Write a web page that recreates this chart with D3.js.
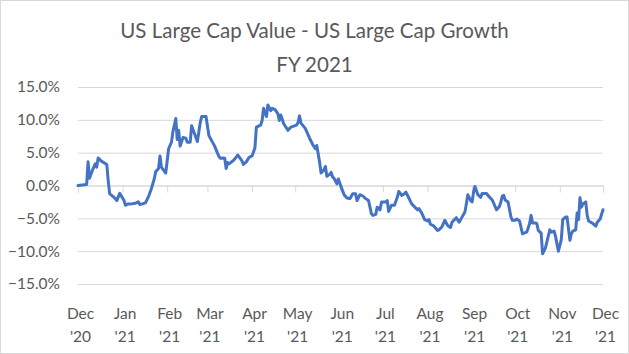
<!DOCTYPE html>
<html>
<head>
<meta charset="utf-8">
<script src="https://cdn.jsdelivr.net/npm/d3@7"></script>
<style>
  body { margin: 0; background: #fff; }
  text { font-family: Lato, "Open Sans", sans-serif; fill: #595959; }
</style>
</head>
<body>
<div id="chart"></div>
<script>
// Chart text
const titleLines = ["US Large Cap Value - US Large Cap Growth", "FY 2021"];

// Series: spread (value minus growth), in percent
const dates = [
  "2020-12-01","2020-12-07","2020-12-08","2020-12-09","2020-12-11","2020-12-13","2020-12-14","2020-12-15",
  "2020-12-17","2020-12-21","2020-12-22","2020-12-23","2020-12-26","2020-12-28","2020-12-30","2021-01-02",
  "2021-01-03","2021-01-05","2021-01-07","2021-01-10","2021-01-12","2021-01-13","2021-01-15","2021-01-17",
  "2021-01-19","2021-01-21","2021-01-23","2021-01-24","2021-01-26","2021-01-27","2021-01-28","2021-01-31",
  "2021-02-02","2021-02-04","2021-02-05","2021-02-07","2021-02-08","2021-02-09","2021-02-10","2021-02-12",
  "2021-02-14","2021-02-15","2021-02-17","2021-02-18","2021-02-19","2021-02-22","2021-02-24","2021-02-25",
  "2021-02-28","2021-03-02","2021-03-04","2021-03-06","2021-03-09","2021-03-10","2021-03-12","2021-03-13",
  "2021-03-14","2021-03-15","2021-03-16","2021-03-19","2021-03-21","2021-03-22","2021-03-25","2021-03-26",
  "2021-03-28","2021-03-30","2021-04-01","2021-04-03","2021-04-04","2021-04-07","2021-04-08","2021-04-09",
  "2021-04-11","2021-04-12","2021-04-14","2021-04-15","2021-04-17","2021-04-19","2021-04-20","2021-04-21",
  "2021-04-23","2021-04-26","2021-04-28","2021-05-02","2021-05-03","2021-05-04","2021-05-05","2021-05-08",
  "2021-05-11","2021-05-13","2021-05-15","2021-05-16","2021-05-18","2021-05-19","2021-05-21","2021-05-22",
  "2021-05-23","2021-05-25","2021-05-26","2021-05-27","2021-05-28","2021-05-30","2021-05-31","2021-06-02",
  "2021-06-04","2021-06-06","2021-06-08","2021-06-10","2021-06-12","2021-06-13","2021-06-15","2021-06-17",
  "2021-06-19","2021-06-21","2021-06-23","2021-06-24","2021-06-26","2021-06-27","2021-06-29","2021-06-30",
  "2021-07-03","2021-07-04","2021-07-05","2021-07-07","2021-07-09","2021-07-11","2021-07-12","2021-07-13",
  "2021-07-14","2021-07-16","2021-07-17","2021-07-19","2021-07-21","2021-07-23","2021-07-25","2021-07-26",
  "2021-07-28","2021-07-30","2021-08-01","2021-08-02","2021-08-03","2021-08-05","2021-08-08","2021-08-09",
  "2021-08-11","2021-08-13","2021-08-15","2021-08-17","2021-08-18","2021-08-21","2021-08-23","2021-08-24",
  "2021-08-27","2021-08-28","2021-08-29","2021-08-31","2021-09-01","2021-09-02","2021-09-03","2021-09-05",
  "2021-09-07","2021-09-08","2021-09-11","2021-09-12","2021-09-15","2021-09-16","2021-09-18","2021-09-20",
  "2021-09-21","2021-09-22","2021-09-23","2021-09-24","2021-09-26","2021-09-28","2021-09-29","2021-10-01",
  "2021-10-02","2021-10-04","2021-10-06","2021-10-07","2021-10-09","2021-10-11","2021-10-12","2021-10-13",
  "2021-10-15","2021-10-16","2021-10-17","2021-10-19","2021-10-20","2021-10-22","2021-10-23","2021-10-25",
  "2021-10-26","2021-10-28","2021-10-29","2021-10-31","2021-11-02","2021-11-03","2021-11-05","2021-11-06",
  "2021-11-08","2021-11-09","2021-11-10","2021-11-12","2021-11-13","2021-11-14","2021-11-15","2021-11-16",
  "2021-11-17","2021-11-19","2021-11-20","2021-11-21","2021-11-24","2021-11-26","2021-11-27","2021-11-29",
  "2021-12-01"
];
const spread = [
  0.0, 0.15, 3.6, 1.1, 2.3, 3.3, 2.8, 4.2,
  3.75, 3.2, 0.75, -1.25, -1.8, -2.3, -1.2, -2.3,
  -3.0, -2.8, -2.8, -2.7, -2.5, -2.9, -2.8, -2.6,
  -1.7, -0.5, 1.0, 2.1, 2.6, 4.5, 2.8, 1.9,
  5.6, 6.6, 8.2, 10.2, 7.0, 8.4, 6.0, 7.3,
  7.2, 6.6, 6.6, 9.1, 8.5, 6.7, 9.6, 10.5,
  10.5, 7.6, 6.8, 6.0, 4.4, 4.15, 4.2, 4.15,
  2.6, 3.5, 3.3, 3.8, 4.3, 4.65, 3.75, 3.2,
  3.6, 4.3, 4.5, 5.7, 8.9, 9.2, 9.9, 11.75,
  10.5, 12.25, 11.4, 11.75, 11.55, 10.9, 9.9, 10.75,
  9.4, 8.4, 8.9, 9.2, 9.6, 10.6, 9.5, 8.7,
  7.2, 6.3, 5.6, 6.1, 3.5, 1.9, 2.4, 2.9,
  1.4, 1.7, 2.0, 1.3, 1.1, 0.25, 1.0, -0.25,
  -1.4, -1.9, -2.0, -1.25, -1.25, -2.3, -1.4, -1.6,
  -2.0, -2.3, -4.3, -4.55, -4.4, -3.3, -3.7, -2.5,
  -2.5, -2.3, -3.95, -3.0, -3.0, -1.8, -0.9, -1.2,
  -1.5, -1.25, -1.0, -1.9, -2.8, -3.25, -3.7, -3.5,
  -4.2, -5.2, -5.4, -5.2, -5.9, -6.1, -6.85, -6.75,
  -6.3, -5.3, -6.1, -6.4, -5.6, -4.9, -5.6, -5.2,
  -4.05, -2.8, -1.4, -2.3, -2.5, -1.0, -0.15, -1.4,
  -1.8, -1.2, -1.2, -1.5, -2.2, -2.7, -3.7, -3.2,
  -2.5, -1.6, -1.5, -2.2, -2.5, -4.8, -5.3, -5.3,
  -5.1, -5.4, -7.35, -7.25, -7.1, -5.8, -4.55, -5.7,
  -5.7, -5.8, -6.85, -7.25, -10.4, -9.5, -8.6, -6.75,
  -7.1, -6.95, -7.75, -10.0, -8.25, -5.2, -4.8, -4.8,
  -8.35, -7.35, -6.95, -6.75, -4.2, -5.2, -1.85, -3.3,
  -2.8, -2.5, -4.55, -5.4, -5.8, -6.2, -5.6, -5.1,
  -3.7
];

// Axis settings
const xStart = "2020-12-01";
const xEnd = "2021-12-01";
const yTicks = [-0.15, -0.10, -0.05, 0, 0.05, 0.10, 0.15];

const width = 629, height = 354;
const margin = {top: 87, right: 26, bottom: 70, left: 78};

const parse = d3.timeParse("%Y-%m-%d");
const data = dates.map((d, i) => ({date: parse(d), value: spread[i] / 100}));

const svg = d3.select("#chart").append("svg")
  .attr("width", width)
  .attr("height", height);

// chart area border
svg.append("rect")
  .attr("x", 0.5).attr("y", 0.5)
  .attr("width", width - 1).attr("height", height - 1)
  .attr("fill", "#fff")
  .attr("stroke", "#d9d9d9");

const x = d3.scaleTime()
  .domain([parse(xStart), parse(xEnd)])
  .range([margin.left, width - margin.right]);

const y = d3.scaleLinear()
  .domain([-0.15, 0.15])
  .range([height - margin.bottom, margin.top]);

// Title
svg.append("text")
  .attr("text-anchor", "middle")
  .style("font-size", "20.5px")
  .selectAll("tspan")
  .data(titleLines)
  .enter()
  .append("tspan")
  .attr("x", width / 2)
  .attr("y", (d, i) => 38 + i * 34)
  .text(d => d);

// Gridlines and y labels
const yAxis = svg.append("g")
  .attr("transform", "translate(" + margin.left + ",0)")
  .call(d3.axisLeft(y)
    .tickValues(yTicks)
    .tickSize(-(width - margin.left - margin.right))
    .tickPadding(18)
    .tickFormat(d3.format(".1%")));
yAxis.select(".domain").remove();
yAxis.selectAll(".tick line").attr("stroke", "#d9d9d9");
yAxis.selectAll(".tick text")
  .style("font-size", "15.5px")
  .attr("fill", "#595959");

// Zero axis with month ticks
const monthTicks = d3.timeMonth.range(parse(xStart), d3.timeDay.offset(parse(xEnd), 1));
const xAxis = svg.append("g")
  .attr("transform", "translate(0," + y(0) + ")")
  .call(d3.axisBottom(x)
    .tickValues(monthTicks)
    .tickSize(7)
    .tickFormat(""));
xAxis.select(".domain").attr("stroke", "#d9d9d9");
xAxis.selectAll(".tick line").attr("stroke", "#d9d9d9");

// Month labels at the bottom
const fmtMonth = d3.timeFormat("%b");
const fmtYear = d3.timeFormat("'%y");
const xLabels = svg.append("g")
  .attr("transform", "translate(2," + (height - margin.bottom) + ")")
  .call(d3.axisBottom(x)
    .tickValues(monthTicks)
    .tickSize(0)
    .tickFormat(""));
xLabels.select(".domain").remove();
xLabels.selectAll(".tick text").remove();
xLabels.selectAll(".tick").each(function(d) {
  const t = d3.select(this).append("text")
    .attr("text-anchor", "middle")
    .attr("fill", "#595959")
    .style("font-size", "15.5px");
  t.append("tspan").attr("x", 0).attr("y", 35).text(fmtMonth(d));
  t.append("tspan").attr("x", 0).attr("y", 58).text(fmtYear(d));
});

// The line
const line = d3.line()
  .x(d => x(d.date))
  .y(d => y(d.value));

svg.append("path")
  .datum(data)
  .attr("d", line)
  .attr("fill", "none")
  .attr("stroke", "#4472C4")
  .attr("stroke-width", 3)
  .attr("stroke-linejoin", "round")
  .attr("stroke-linecap", "round");
</script>
</body>
</html>
